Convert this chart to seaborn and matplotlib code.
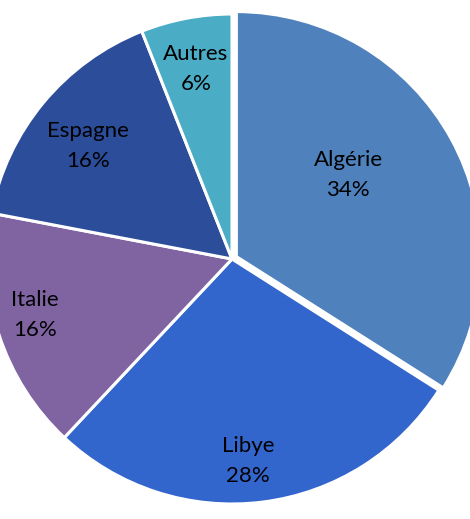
import numpy as np
import matplotlib
matplotlib.use("Agg")
import matplotlib.pyplot as plt
import seaborn as sns

# share of imports by origin
countries = ["Algérie", "Libye", "Italie", "Espagne", "Autres"]
shares = [34, 28, 16, 16, 6]
slice_colors = ["#4F81BD", "#3366CC", "#8064A2", "#2C4D9A", "#4BACC6"]

sns.set_theme(style="white")
plt.rcParams['font.family'] = ['Lato', 'DejaVu Sans']

fig = plt.figure(figsize=(4.70, 5.19), dpi=100)
ax = fig.add_axes([0, 0, 1, 1])

# explode is in data units here (radius is in pixels)
explode = [5, 0, 0, 0, 0]
wedges, _ = ax.pie(shares, colors=slice_colors, startangle=90, counterclock=False,
                   explode=explode, radius=245, center=(232, 260),
                   wedgeprops=dict(edgecolor="white", linewidth=2.2))

# label distance (fraction of radius) and angular position inside each slice
label_r = [0.565, 0.827, 0.836, 0.747, 0.79]
label_frac = [0.56, 0.473, 0.464, 0.526, 0.5]
for w, name, pct, lr, fr in zip(wedges, countries, shares, label_r, label_frac):
    mid = np.deg2rad(w.theta1 + (w.theta2 - w.theta1) * fr)
    x = w.center[0] + lr * w.r * np.cos(mid)
    y = w.center[1] + lr * w.r * np.sin(mid)
    ax.text(x, y, f"{name}\n{pct}%", ha="center", va="center",
            fontsize=16, color="black", linespacing=1.65)

ax.set_xlim(0, 470)
ax.set_ylim(0, 519)
ax.set_aspect("equal")
ax.axis("off")

plt.savefig("out.png", dpi=100, facecolor="white")
plt.close()
